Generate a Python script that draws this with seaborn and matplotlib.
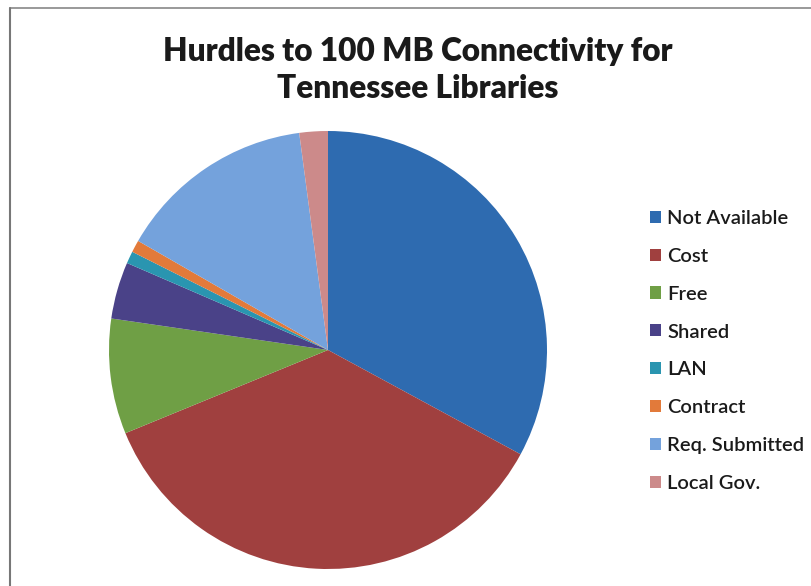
import matplotlib
matplotlib.use("Agg")
import matplotlib.pyplot as plt
import seaborn as sns
from matplotlib.lines import Line2D
from matplotlib.patches import Patch

categories = ["Not Available", "Cost", "Free", "Shared", "LAN", "Contract",
              "Req. Submitted", "Local Gov."]
values = [32.9, 35.9, 8.5, 4.2, 0.9, 0.9, 14.6, 2.1]
colors = ["#2E6BB0", "#A0403F", "#6F9F45", "#4A4288", "#2A95B0", "#E27A3A",
          "#74A2DC", "#CC8A8A"]
title = "Hurdles to 100 MB Connectivity for\nTennessee Libraries"

sns.set_theme(style="white")
plt.rcParams['font.family'] = ['Lato', 'DejaVu Sans']

W, H = 811, 586
fig = plt.figure(figsize=(W / 100, H / 100), dpi=100)
fig.patch.set_facecolor("white")

cx, cy, r = 328, 350, 219
ax = fig.add_axes([(cx - r) / W, (H - cy - r) / H, 2 * r / W, 2 * r / H])
wedges, _ = ax.pie(values, colors=colors, startangle=90, counterclock=False,
                   wedgeprops=dict(linewidth=0))
ax.set_xlim(-1, 1)
ax.set_ylim(-1, 1)
ax.set_aspect("equal")
ax.axis("off")

fig.text(418 / W, 1 - 70 / H, title, ha="center", va="center",
         fontsize=22.8, fontweight="heavy", color="#1a1a1a", linespacing=1.3)

handles = [Patch(facecolor=c, edgecolor="none") for c in colors]
leg = fig.legend(handles, categories, loc="upper left",
                 bbox_to_anchor=(650 / W, 1 - 210 / H), frameon=False,
                 prop=dict(family=['Lato', 'DejaVu Sans'], size=14.5, weight="semibold"),
                 handlelength=0.55, handleheight=0.55,
                 handletextpad=0.3, labelspacing=1.035, borderaxespad=0,
                 borderpad=0)
for t in leg.get_texts():
    t.set_color("#1a1a1a")

# outer chart border (top and left visible)
fig.add_artist(Line2D([10 / W, 1], [1 - 8 / H, 1 - 8 / H], color="#888888",
                      lw=1.2, transform=fig.transFigure))
fig.add_artist(Line2D([10 / W, 10 / W], [0, 1 - 8 / H], color="#777777",
                      lw=1.5, transform=fig.transFigure))

fig.savefig("out.png", dpi=100, facecolor="white")
